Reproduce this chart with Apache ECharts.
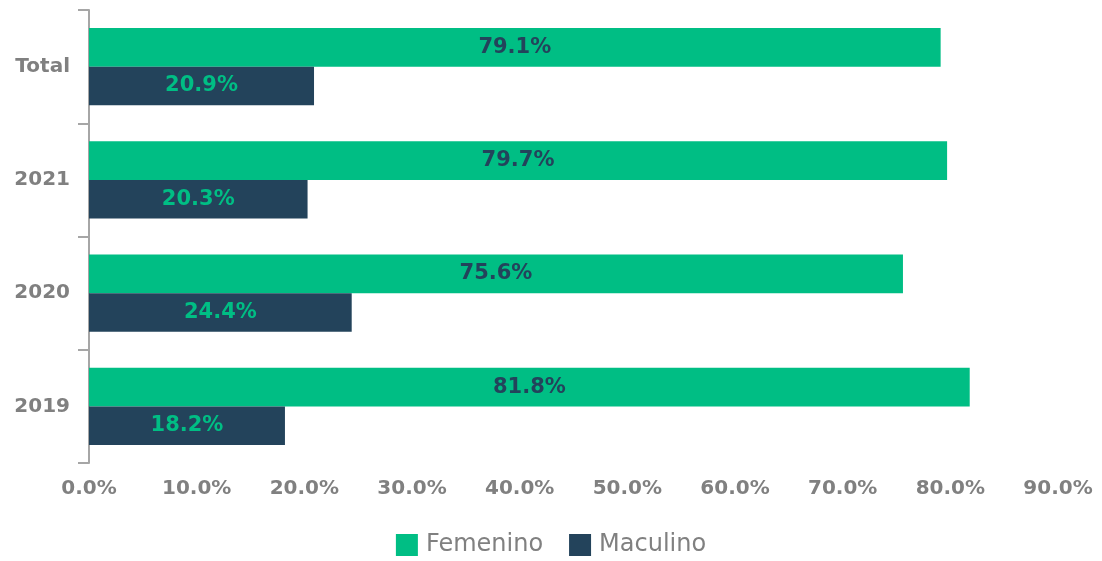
<!DOCTYPE html>
<html>
<head>
<meta charset="utf-8">
<script src="https://cdn.jsdelivr.net/npm/echarts@6/dist/echarts.min.js"></script>
<style>
html,body{margin:0;padding:0;background:#fff;}
#chart{width:1102px;height:561px;}
</style>
</head>
<body>
<div id="chart"></div>
<script>
const categories = ['2019', '2020', '2021', 'Total'];
const femenino = [81.8, 75.6, 79.7, 79.1];
const maculino = [18.2, 24.4, 20.3, 20.9];
const xTicks = [0, 10, 20, 30, 40, 50, 60, 70, 80, 90];

const GREEN = '#00BE84';
const NAVY = '#23435B';
const GRAY = '#808080';
const FONT = 'DejaVu Sans';

const chart = echarts.init(document.getElementById('chart'));
chart.setOption({
  animation: false,
  textStyle: { fontFamily: FONT },
  grid: { left: 89, right: 44, top: 10, bottom: 98, containLabel: false },
  legend: {
    data: ['Femenino', 'Maculino'],
    top: 528,
    left: 'center',
    icon: 'rect',
    itemWidth: 22,
    itemHeight: 22,
    itemGap: 26,
    textStyle: { color: GRAY, fontSize: 24, fontFamily: FONT, padding: [0, 0, 0, 3] }
  },
  xAxis: {
    type: 'value',
    min: xTicks[0],
    max: xTicks[xTicks.length - 1],
    interval: 10,
    axisLine: { show: false },
    axisTick: { show: false },
    splitLine: { show: false },
    axisLabel: {
      color: GRAY, fontSize: 20, fontWeight: 'bold', fontFamily: FONT, margin: 16,
      formatter: v => v.toFixed(1) + '%'
    }
  },
  yAxis: {
    type: 'category',
    data: categories,
    axisLine: { show: true, lineStyle: { color: '#A6A6A6', width: 2 } },
    axisTick: { show: true, length: 11, lineStyle: { color: '#A6A6A6', width: 2 } },
    axisLabel: { color: GRAY, fontSize: 20, fontWeight: 'bold', fontFamily: FONT, margin: 19, padding: [0, 0, 4, 0] }
  },
  series: [
    {
      name: 'Femenino', type: 'bar', data: femenino,
      barGap: '0%', barCategoryGap: '32%',
      itemStyle: { color: GREEN },
      label: { show: true, position: 'inside', color: NAVY, fontSize: 21, fontWeight: 'bold', fontFamily: FONT,
        formatter: p => p.value.toFixed(1) + '%' }
    },
    {
      name: 'Maculino', type: 'bar', data: maculino,
      barGap: '0%', barCategoryGap: '32%',
      itemStyle: { color: NAVY },
      label: { show: true, position: 'inside', color: GREEN, fontSize: 21, fontWeight: 'bold', fontFamily: FONT,
        formatter: p => p.value.toFixed(1) + '%' }
    }
  ]
});
</script>
</body>
</html>
